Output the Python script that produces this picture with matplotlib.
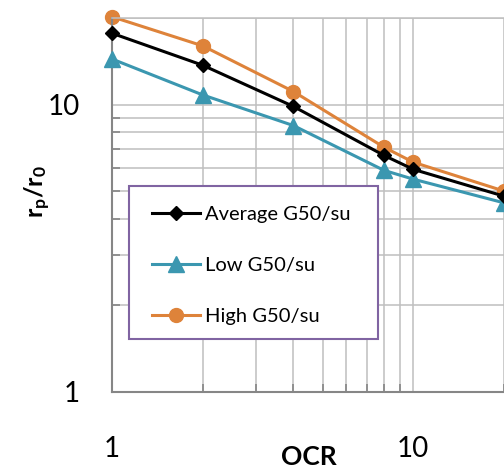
import numpy as np
import matplotlib
matplotlib.use("Agg")
import matplotlib.pyplot as plt
from matplotlib.patches import Rectangle
from matplotlib.ticker import LogLocator, NullFormatter, FixedLocator, FixedFormatter

plt.rcParams['font.family'] = ['Lato', 'DejaVu Sans']
plt.rcParams['mathtext.fontset'] = 'custom'
plt.rcParams['mathtext.bf'] = 'Lato:bold'
plt.rcParams['mathtext.rm'] = 'Lato'

# data
ocr = [1, 2, 4, 8, 10, 20]
avg_g50 = [17.7, 13.7, 9.85, 6.65, 5.95, 4.8]
low_g50 = [14.4, 10.8, 8.45, 5.9, 5.5, 4.55]
high_g50 = [20.2, 16.0, 11.1, 7.1, 6.3, 5.0]

W, H = 504, 471
fig = plt.figure(figsize=(W / 100, H / 100), dpi=100)
ax = fig.add_axes([112 / W, 79 / H, 392 / W, 374 / H])

ax.set_xscale("log")
ax.set_yscale("log")
ax.set_xlim(1, 20)
ax.set_ylim(1, 20)

grid_c = "#BFBFBF"
axis_c = "#868686"

# gridlines (major + minor)
ax.xaxis.set_major_locator(FixedLocator([1, 10]))
ax.xaxis.set_major_formatter(FixedFormatter(["1", "10"]))
ax.xaxis.set_minor_locator(LogLocator(base=10, subs=np.arange(2, 10)))
ax.xaxis.set_minor_formatter(NullFormatter())
ax.yaxis.set_major_locator(FixedLocator([1, 10]))
ax.yaxis.set_major_formatter(FixedFormatter(["1", "10"]))
ax.yaxis.set_minor_locator(LogLocator(base=10, subs=np.arange(2, 10)))
ax.yaxis.set_minor_formatter(NullFormatter())
ax.grid(True, which="both", color=grid_c, linewidth=1.1)
ax.set_axisbelow(True)

ax.tick_params(axis="both", which="major", length=0, labelsize=20, colors="black")
ax.tick_params(axis="x", which="major", pad=32)
ax.tick_params(axis="y", which="major", pad=23)
ax.tick_params(axis="both", which="minor", direction="in", length=6,
               width=1.2, color=axis_c)

for s in ["left", "bottom"]:
    ax.spines[s].set_color(axis_c)
    ax.spines[s].set_linewidth(1.5)
ax.spines["top"].set_color(grid_c)
ax.spines["top"].set_linewidth(1.1)
ax.spines["right"].set_visible(False)

l1, = ax.plot(ocr, avg_g50, color="black", marker="D", markersize=7,
              linewidth=2.2, label="Average G50/su", clip_on=False, zorder=4)
l2, = ax.plot(ocr, low_g50, color="#3B97B0", marker="^", markersize=12,
              linewidth=2.2, label="Low G50/su", clip_on=False, zorder=3)
l3, = ax.plot(ocr, high_g50, color="#DE833A", marker="o", markersize=10,
              linewidth=2.2, label="High G50/su", clip_on=False, zorder=2)

# axis titles
fig.text(309 / W, 1 - 457 / H, "OCR", fontsize=19, fontweight="bold",
         ha="center", va="center")
fig.text(38 / W, 1 - 192 / H, r"$\mathbf{r_p/r_0}$", fontsize=18,
         rotation=90, ha="center", va="center")

# legend box
fig.patches.append(Rectangle((129 / W, 1 - 339 / H), 249 / W, 153 / H,
                             transform=fig.transFigure, facecolor="white",
                             edgecolor="#8064A2", linewidth=1.5, zorder=5))
leg = fig.legend(handles=[l1, l2, l3], loc="upper left",
                 bbox_to_anchor=(152 / W, 1 - 206 / H), frameon=False,
                 fontsize=14.5, labelspacing=1.67, handlelength=2.4,
                 handletextpad=0.25, borderpad=0, borderaxespad=0)
leg.set_zorder(6)

fig.savefig("out.png", dpi=100)
